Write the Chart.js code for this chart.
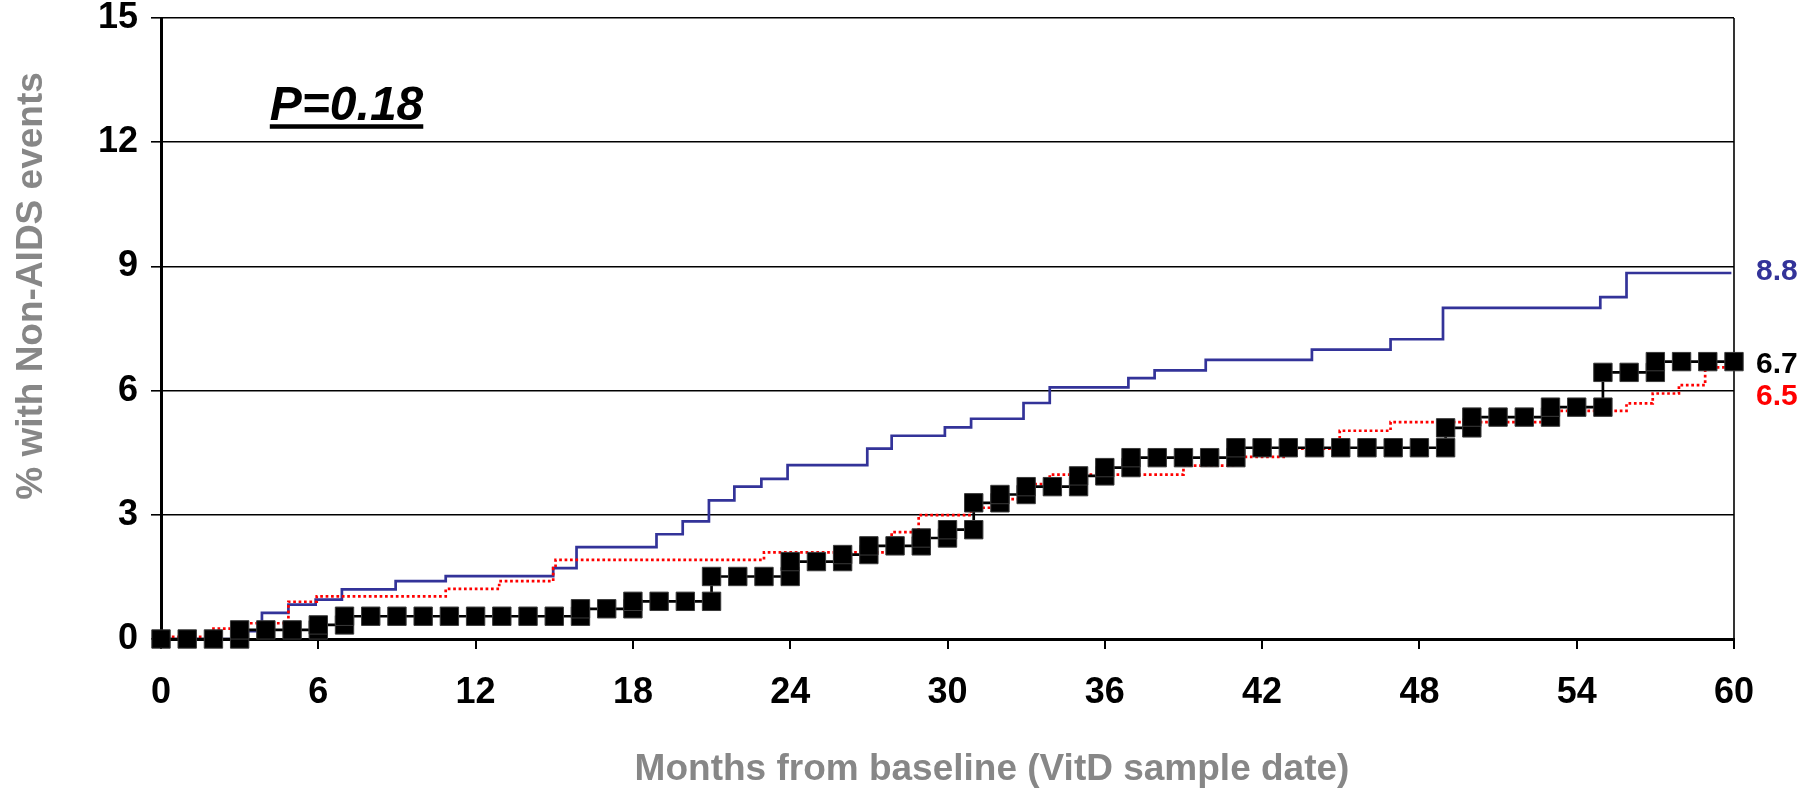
<!DOCTYPE html>
<html>
<head>
  <title>Non-AIDS events by months from baseline</title>
  <script src="https://cdn.jsdelivr.net/npm/chart.js"></script>
  <style>
    body { margin: 0; background: #fff; }
    #wrap { width: 1804px; height: 790px; }
  </style>
</head>
<body>
  <div id="wrap"><canvas id="kmChart"></canvas></div>
  <script>
  // blue curve: month of each step and the % reached there
  const blueTimes  = [0, 3.0, 3.85, 4.86, 5.9, 6.9, 8.95, 10.86, 14.96, 15.85, 18.9, 19.9, 20.9, 21.87, 22.9, 23.9,
                      26.94, 27.87, 29.9, 30.9, 32.9, 33.9, 36.9, 37.9, 39.85, 43.9, 46.9, 48.9, 54.9, 55.9, 59.9];
  const blueValues = [0, 0.19, 0.63, 0.83, 0.95, 1.2, 1.4, 1.52, 1.71, 2.22, 2.53, 2.84, 3.35, 3.68, 3.87, 4.2,
                      4.6, 4.91, 5.11, 5.32, 5.7, 6.08, 6.3, 6.49, 6.74, 6.99, 7.24, 8.0, 8.26, 8.84, 8.84];

  // red dotted curve
  const redTimes  = [0, 1.9, 3.0, 4.86, 5.94, 10.86, 12.9, 14.96, 15.05, 23.0, 27.87, 28.9, 30.9, 31.9, 32.9, 33.9,
                     39.0, 40.95, 42.9, 44.96, 46.9, 53.0, 55.9, 56.9, 57.9, 58.9, 59.9];
  const redValues = [0.05, 0.25, 0.38, 0.9, 1.03, 1.21, 1.4, 1.71, 1.91, 2.09, 2.58, 2.99, 3.17, 3.38, 3.74, 3.97,
                     4.19, 4.4, 4.6, 5.03, 5.24, 5.51, 5.69, 5.93, 6.13, 6.56, 6.56];

  // black curve with markers, one value per month 0..60
  const blackValues = [0, 0, 0, 0.22, 0.22, 0.22, 0.34, 0.55, 0.55, 0.55, 0.55, 0.55, 0.55, 0.55, 0.55, 0.55,
                       0.73, 0.73, 0.91, 0.91, 0.91, 1.51, 1.51, 1.51, 1.87, 1.87, 2.04, 2.25, 2.25, 2.44, 2.64,
                       3.29, 3.49, 3.68, 3.68, 3.94, 4.14, 4.38, 4.38, 4.38, 4.38, 4.62, 4.62, 4.62, 4.62, 4.62,
                       4.62, 4.62, 4.62, 5.10, 5.36, 5.36, 5.36, 5.6, 5.6, 6.44, 6.44, 6.7, 6.7, 6.7, 6.7];

  const endLabels = ['8.8', '6.7', '6.5'];
  const endColors = ['#333399', '#000000', '#ff0000'];
  const pLabel = 'P=0.18';
  const xTitle = 'Months from baseline (VitD sample date)';
  const yTitle = '% with Non-AIDS events';

  const FONT = 'Arial, "Liberation Sans", sans-serif';

  function stepPoints(times, values) {
    return times.map((t, i) => ({ x: t, y: values[i] }));
  }

  // a marker at the old and the new level when the curve jumps
  function monthlyPoints(values) {
    const pts = [];
    values.forEach((v, m) => {
      if (m > 0 && v !== values[m - 1]) pts.push({ x: m, y: values[m - 1] });
      pts.push({ x: m, y: v });
    });
    return pts;
  }

  const textPlugin = {
    id: 'chartText',
    beforeDatasetsDraw(chart) {
      const { ctx, chartArea: a } = chart;
      ctx.save();
      ctx.strokeStyle = '#000';
      ctx.lineWidth = 1.6;
      ctx.beginPath();
      ctx.moveTo(a.right, a.top);
      ctx.lineTo(a.right, a.bottom);
      ctx.stroke();
      ctx.restore();
    },
    afterDraw(chart) {
      const { ctx, chartArea: a, scales: { x, y } } = chart;
      ctx.save();

      ctx.font = `italic bold 48px ${FONT}`;
      ctx.fillStyle = '#000';
      ctx.textAlign = 'left';
      ctx.textBaseline = 'alphabetic';
      const px = x.getPixelForValue(4.15), py = y.getPixelForValue(12.53);
      ctx.fillText(pLabel, px, py);
      ctx.fillRect(px, py + 4, ctx.measureText(pLabel).width, 4.5);

      ctx.font = `bold 30px ${FONT}`;
      ctx.textBaseline = 'middle';
      const labelAt = [8.86, 6.62, 5.86];
      endLabels.forEach((t, i) => {
        ctx.fillStyle = endColors[i];
        ctx.fillText(t, a.right + 22, y.getPixelForValue(labelAt[i]));
      });

      ctx.fillStyle = '#878787';
      ctx.font = `bold 37px ${FONT}`;
      ctx.textAlign = 'center';
      ctx.textBaseline = 'alphabetic';
      ctx.fillText(xTitle, 992, 780);
      ctx.translate(42, 286);
      ctx.rotate(-Math.PI / 2);
      ctx.fillText(yTitle, 0, 0);
      ctx.restore();
    }
  };

  const tickFont = { family: FONT, size: 36, weight: 'bold', lineHeight: 1 };

  new Chart(document.getElementById('kmChart'), {
    type: 'line',
    data: {
      datasets: [
        {
          label: 'black', data: monthlyPoints(blackValues),
          borderColor: '#000', borderWidth: 2.7,
          pointStyle: 'rect', pointRadius: 13, pointBackgroundColor: '#000',
          pointBorderColor: '#3a3a3a', pointBorderWidth: 1,
          clip: false, order: 0
        },
        {
          label: 'red', data: stepPoints(redTimes, redValues), stepped: true,
          borderColor: '#ff0000', borderWidth: 2.7, borderDash: [2.7, 2.7],
          pointRadius: 0, order: 1
        },
        {
          label: 'blue', data: stepPoints(blueTimes, blueValues), stepped: true,
          borderColor: '#333399', borderWidth: 2.7,
          pointRadius: 0, order: 2
        }
      ]
    },
    options: {
      responsive: true,
      maintainAspectRatio: false,
      animation: false,
      layout: { padding: { top: 18, right: 70, bottom: 0, left: 0 } },
      plugins: { legend: { display: false }, tooltip: { enabled: false } },
      scales: {
        x: {
          type: 'linear', min: 0, max: 60,
          afterFit: s => { s.height = 151; },
          ticks: { stepSize: 6, padding: 26, color: '#000', font: tickFont, maxRotation: 0 },
          grid: { drawOnChartArea: false, tickLength: 10, color: '#000', lineWidth: 2 },
          border: { color: '#000', width: 3 }
        },
        y: {
          min: 0, max: 15,
          afterFit: s => { s.width = 161; s.paddingTop = 0; s.paddingBottom = 0; },
          ticks: { stepSize: 3, padding: 13, color: '#000', font: tickFont },
          grid: { tickLength: 10, color: '#000', lineWidth: 1.6 },
          border: { color: '#000', width: 3 }
        }
      }
    },
    plugins: [textPlugin]
  });
</script>
</body>
</html>
